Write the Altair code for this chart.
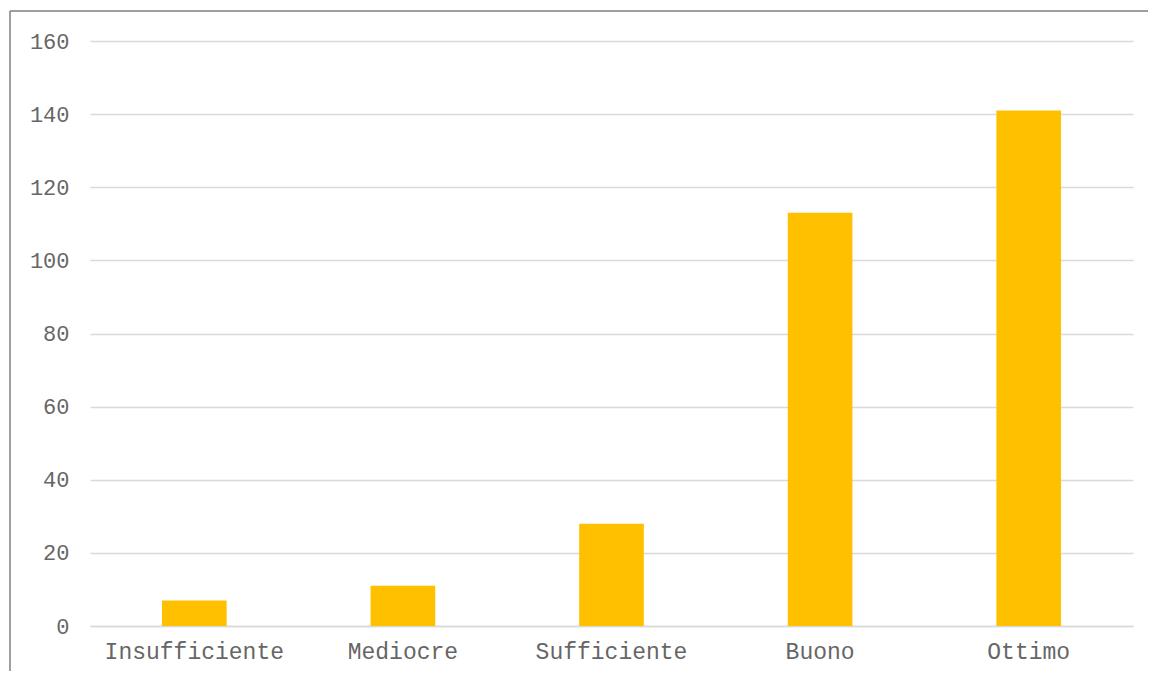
import altair as alt
import pandas as pd

categories = ["Insufficiente", "Mediocre", "Sufficiente", "Buono", "Ottimo"]
values = [7, 11, 28, 113, 141]

df = pd.DataFrame({"cat": categories, "val": values})

W, H = 1043, 585
FONT = "Liberation Mono"

bars = alt.Chart(df).mark_bar(color="#FFC000").encode(
    x=alt.X("cat:N", sort=categories,
            scale=alt.Scale(paddingInner=0.69, paddingOuter=0.345),
            axis=alt.Axis(title=None, labelAngle=0, ticks=False, domain=True,
                          domainColor="#d9d9d9", domainWidth=1.5,
                          labelFont=FONT, labelFontSize=23,
                          labelColor="#666666", labelPadding=14, grid=False)),
    y=alt.Y("val:Q", scale=alt.Scale(domain=[0, 160]),
            axis=alt.Axis(title=None, values=[0, 20, 40, 60, 80, 100, 120, 140, 160],
                          ticks=False, domain=False, gridColor="#d9d9d9", gridWidth=1.5,
                          labelFont=FONT, labelFontSize=22,
                          labelColor="#666666", labelPadding=21)),
)

one = pd.DataFrame({"a": [0]})
top_rule = alt.Chart(one).mark_rule(color="#7f7f7f", strokeWidth=1.5).encode(
    x=alt.value(-80), x2=alt.value(1080), y=alt.value(-30)
)
left_rule = alt.Chart(one).mark_rule(color="#7f7f7f", strokeWidth=1.5).encode(
    x=alt.value(-80), y=alt.value(-30), y2=alt.value(700)
)

chart = alt.layer(top_rule, left_rule, bars).properties(
    width=W, height=H,
    background="white",
    autosize=alt.AutoSizeParams(type="none"),
    padding={"left": 82, "top": 33, "right": 15, "bottom": 45},
).configure_view(stroke="transparent", strokeWidth=0)

chart.save("out.html", embed_options={"renderer": "svg", "actions": False})
